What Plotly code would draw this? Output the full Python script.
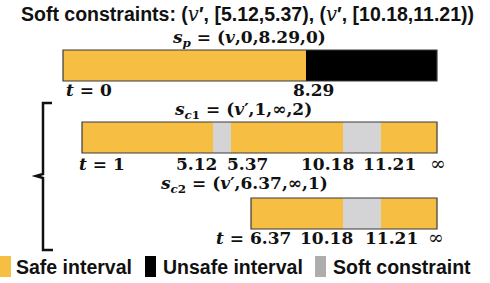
import plotly.graph_objects as go
import numpy as np

# ---- data ----
# time values of interval boundaries and their positions on the schematic (non-linear) time axis
knot_times = [0, 1, 5.12, 5.37, 6.37, 8.29, 10.18, 11.21, np.inf]
knot_pos = [63, 82, 213, 231, 251, 306, 343, 381, 437]

sp_start = [0, 8.29]
sp_end = [8.29, np.inf]
sp_kind = ["safe", "unsafe"]

sc1_start = [1, 5.12, 5.37, 10.18, 11.21]
sc1_end = [5.12, 5.37, 10.18, 11.21, np.inf]
sc1_kind = ["safe", "soft", "safe", "soft", "safe"]

sc2_start = [6.37, 10.18, 11.21]
sc2_end = [10.18, 11.21, np.inf]
sc2_kind = ["safe", "soft", "safe"]

legend_names = {"safe": "Safe interval", "unsafe": "Unsafe interval", "soft": "Soft constraint"}

# ---- style ----
COL = {"safe": "#F6BF43", "unsafe": "#000000", "soft": "#D4D3D5"}
LEG_COL = {"safe": "#F6BF43", "unsafe": "#000000", "soft": "#AEACAD"}
SERIF = "DejaVu Serif"
SANS = "Liberation Sans"
W, H = 490, 283


def pos(t):
    return knot_pos[knot_times.index(t)]


rows = [
    (65.5, sp_start, sp_end, sp_kind),
    (137.5, sc1_start, sc1_end, sc1_kind),
    (213.5, sc2_start, sc2_end, sc2_kind),
]
BAR_W = 31

fig = go.Figure()
for kind in ["safe", "unsafe", "soft"]:
    ys, bases, lens = [], [], []
    for yc, st, en, kd in rows:
        for s, e, k in zip(st, en, kd):
            if k == kind:
                ys.append(yc)
                bases.append(pos(s))
                lens.append(pos(e) - pos(s))
    fig.add_trace(go.Bar(y=ys, x=lens, base=bases, orientation="h", width=BAR_W,
                         marker=dict(color=COL[kind], line=dict(width=0)),
                         showlegend=False, hoverinfo="skip"))

# outlines around each whole bar
fig.add_trace(go.Bar(y=[r[0] for r in rows],
                     x=[pos(r[2][-1]) - pos(r[1][0]) for r in rows],
                     base=[pos(r[1][0]) for r in rows],
                     orientation="h", width=BAR_W,
                     marker=dict(color="rgba(0,0,0,0)", line=dict(color="#3a3a3a", width=1.2)),
                     showlegend=False, hoverinfo="skip"))

ann = []


def add_text(x, y, text, size, font=SERIF, xanchor="center"):
    ann.append(dict(x=x, y=y, xref="x", yref="y", text=text, showarrow=False,
                    xanchor=xanchor, yanchor="middle",
                    font=dict(family=font, size=size, color="#111111")))


vi = '<span style="font-family:DejaVu Serif;font-weight:normal"><i>v</i></span>'
add_text(247, 14, f"<b>Soft constraints: ({vi}′, [5.12,5.37), ({vi}′, [10.18,11.21))</b>", 19.5, SANS)

M = 17
add_text(249, 38, "<b><i>s</i><sub><i>p</i></sub> = (<i>v</i>,0,8.29,0)</b>", M)
add_text(243, 110, "<b><i>s</i><sub><i>c</i>1</sub> = (<i>v</i>′,1,∞,2)</b>", M)
add_text(244, 184, "<b><i>s</i><sub><i>c</i>2</sub> = (<i>v</i>′,6.37,∞,1)</b>", M)

# boundary labels
add_text(64, 90, "<b><i>t</i> = 0</b>", M, xanchor="left")
add_text(313, 90, "<b>8.29</b>", M)

add_text(77, 164, "<b><i>t</i> = 1</b>", M, xanchor="left")
add_text(196.5, 164, "<b>5.12</b>", M)
add_text(247.5, 164, "<b>5.37</b>", M)
add_text(327.5, 164, "<b>10.18</b>", M)
add_text(389, 164, "<b>11.21</b>", M)
add_text(438, 163, "∞", 19)

add_text(253.5, 238, "<b><i>t</i> = 6.37</b>", M)
add_text(326.5, 238, "<b>10.18</b>", M)
add_text(391, 238, "<b>11.21</b>", M)
add_text(436, 237, "∞", 19)

# legend
shapes = []
leg_items = [("safe", 0, 14), ("unsafe", 145, 161), ("soft", 315, 331)]
for kind, x0, tx in leg_items:
    shapes.append(dict(type="rect", xref="x", yref="y", x0=x0, x1=x0 + 11, y0=256, y1=277,
                       fillcolor=LEG_COL[kind], line=dict(width=0)))
    add_text(tx, 267, f"<b>{legend_names[kind]}</b>", 19.5, SANS, xanchor="left")

# bracket
shapes.append(dict(type="path", xref="x", yref="y",
                   path="M 52 103 L 43 103 L 43 174 L 36 176 L 43 178 L 43 250 L 53 250",
                   line=dict(color="#111111", width=2.5)))

fig.update_layout(
    width=W, height=H, margin=dict(l=0, r=0, t=0, b=0),
    paper_bgcolor="white", plot_bgcolor="white",
    xaxis=dict(range=[0, W], visible=False, fixedrange=True),
    yaxis=dict(range=[H, 0], visible=False, fixedrange=True),
    barmode="overlay", annotations=ann, shapes=shapes, showlegend=False,
)
fig.write_html("out.html",
               config={"displayModeBar": False, "staticPlot": True},
               post_script="document.body.style.margin='0';document.body.style.overflow='hidden';")
